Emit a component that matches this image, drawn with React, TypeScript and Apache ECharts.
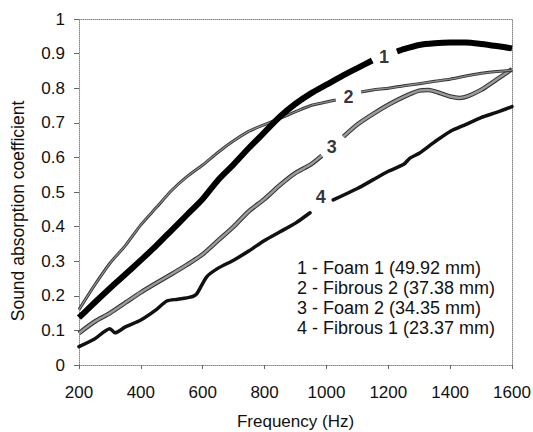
import React, { useEffect, useRef } from "react";
import * as echarts from "echarts";

// Curve 1 - Foam 1 (49.92 mm)
const foam1Freq = [200, 250, 300, 350, 400, 450, 500, 550, 600, 650, 700, 750, 800, 850, 900, 950, 1000, 1050, 1100, 1148, 1190, 1228, 1250, 1300, 1350, 1400, 1450, 1500, 1550, 1600];
const foam1Vals = [0.137, 0.18, 0.222, 0.262, 0.303, 0.345, 0.39, 0.435, 0.48, 0.535, 0.58, 0.628, 0.673, 0.718, 0.755, 0.785, 0.81, 0.835, 0.858, 0.88, null, 0.906, 0.913, 0.925, 0.93, 0.932, 0.932, 0.928, 0.922, 0.915];

// Curve 2 - Fibrous 2 (37.38 mm)
const fibrous2Freq = [200, 250, 300, 350, 400, 450, 500, 550, 600, 650, 700, 750, 800, 850, 900, 950, 1000, 1030, 1070, 1112, 1150, 1200, 1250, 1300, 1350, 1400, 1450, 1500, 1550, 1600];
const fibrous2Vals = [0.16, 0.23, 0.294, 0.345, 0.405, 0.455, 0.505, 0.545, 0.578, 0.615, 0.648, 0.676, 0.695, 0.713, 0.732, 0.75, 0.76, 0.766, null, 0.789, 0.795, 0.8, 0.807, 0.813, 0.82, 0.826, 0.835, 0.843, 0.848, 0.852];

// Curve 3 - Foam 2 (34.35 mm)
const foam2Freq = [200, 250, 300, 350, 400, 450, 500, 550, 600, 650, 700, 750, 800, 850, 900, 950, 985, 1020, 1055, 1100, 1150, 1200, 1250, 1300, 1330, 1370, 1400, 1430, 1460, 1500, 1550, 1600];
const foam2Vals = [0.092, 0.125, 0.15, 0.18, 0.21, 0.237, 0.263, 0.29, 0.32, 0.36, 0.4, 0.445, 0.48, 0.52, 0.555, 0.58, 0.605, null, 0.66, 0.695, 0.725, 0.752, 0.775, 0.793, 0.795, 0.785, 0.776, 0.772, 0.778, 0.795, 0.825, 0.855];

// Curve 4 - Fibrous 1 (23.37 mm)
const fibrous1Freq = [200, 250, 300, 316, 350, 400, 450, 484, 520, 560, 580, 613, 650, 700, 750, 800, 850, 900, 947, 985, 1022, 1100, 1150, 1200, 1250, 1270, 1300, 1350, 1400, 1450, 1500, 1550, 1600];
const fibrous1Vals = [0.053, 0.075, 0.105, 0.093, 0.11, 0.13, 0.16, 0.185, 0.19, 0.196, 0.205, 0.255, 0.28, 0.303, 0.33, 0.36, 0.385, 0.41, 0.44, null, 0.477, 0.51, 0.535, 0.56, 0.58, 0.598, 0.612, 0.645, 0.675, 0.695, 0.715, 0.73, 0.747];

// Curve number labels placed in the gaps
const curveLabels = ["1", "2", "3", "4"];
const curveLabelFreq = [1186, 1071, 1017, 982];
const curveLabelVals = [0.89, 0.775, 0.63, 0.486];

const legendLines = [
  "1 - Foam 1 (49.92 mm)",
  "2 - Fibrous 2 (37.38 mm)",
  "3 - Foam 2 (34.35 mm)",
  "4 - Fibrous 1 (23.37 mm)",
];

const xTicks = [200, 400, 600, 800, 1000, 1200, 1400, 1600];
const xName = "Frequency (Hz)";
const yName = "Sound absorption coefficient";

const FONT = "'Liberation Sans', Arial, sans-serif";

const pairs = (f: number[], v: (number | null)[]) =>
  f.map((x, i) => [x, v[i] === null ? "-" : v[i]]);

export default function App() {
  const ref = useRef<HTMLDivElement>(null);
  useEffect(() => {
    if (!ref.current) return;
    const chart = echarts.init(ref.current, undefined, { renderer: "svg" });
    const lineBase = {
      type: "line",
      showSymbol: false,
      symbol: "none",
      smooth: 0.25,
      connectNulls: false,
      silent: true,
      xAxisIndex: 0,
      yAxisIndex: 0,
    };
    chart.setOption({
      animation: false,
      backgroundColor: "#fff",
      grid: { left: 79, right: 21, top: 19, bottom: 67, containLabel: false, outerBoundsMode: "none" },
      xAxis: [
        {
          type: "value",
          position: "bottom",
          min: xTicks[0],
          max: xTicks[xTicks.length - 1],
          interval: 200,
          name: xName,
          nameLocation: "middle",
          nameGap: 48,
          nameTextStyle: { fontFamily: FONT, fontSize: 17, color: "#111" },
          axisLine: { show: true, lineStyle: { color: "#888", type: "dotted", width: 1 } },
          axisTick: { show: true, inside: false, length: 4, lineStyle: { color: "#666" } },
          axisLabel: {
            fontFamily: FONT,
            fontSize: 17,
            color: "#111",
            margin: 19,
            formatter: (v: number) => String(v),
          },
          splitLine: { show: false },
        },
        {
          type: "value",
          position: "top",
          min: 200,
          max: 1600,
          axisLine: { show: true, onZero: false, lineStyle: { color: "#888", type: "dotted", width: 1 } },
          axisTick: { show: false },
          axisLabel: { show: false },
          splitLine: { show: false },
        },
      ],
      yAxis: [
        {
          type: "value",
          position: "left",
          min: 0,
          max: 1,
          interval: 0.1,
          axisLine: { show: true, onZero: false, lineStyle: { color: "#888", type: "dotted", width: 1 } },
          axisTick: { show: true, inside: false, length: 5, lineStyle: { color: "#666" } },
          axisLabel: {
            fontFamily: FONT,
            fontSize: 17,
            color: "#111",
            margin: 14,
            formatter: (v: number) => String(Math.round(v * 10) / 10),
          },
          splitLine: { show: false },
        },
        {
          type: "value",
          position: "right",
          min: 0,
          max: 1,
          axisLine: { show: true, onZero: false, lineStyle: { color: "#888", type: "dotted", width: 1 } },
          axisTick: { show: false },
          axisLabel: { show: false },
          splitLine: { show: false },
        },
      ],
      series: [
        {
          ...lineBase,
          name: "Fibrous 1",
          data: pairs(fibrous1Freq, fibrous1Vals),
          lineStyle: { color: "#111", width: 3.5, cap: "round", join: "round" },
        },
        {
          ...lineBase,
          name: "Foam 2 edge",
          data: pairs(foam2Freq, foam2Vals),
          lineStyle: { color: "#333", width: 4.5, cap: "butt", join: "round" },
        },
        {
          ...lineBase,
          name: "Foam 2",
          data: pairs(foam2Freq, foam2Vals),
          lineStyle: { color: "#9a9a9a", width: 2.5, cap: "butt", join: "round" },
        },
        {
          ...lineBase,
          name: "Fibrous 2 edge",
          data: pairs(fibrous2Freq, fibrous2Vals),
          lineStyle: { color: "#333", width: 3, cap: "butt", join: "round" },
        },
        {
          ...lineBase,
          name: "Fibrous 2",
          data: pairs(fibrous2Freq, fibrous2Vals),
          lineStyle: { color: "#8c8c8c", width: 1.3, cap: "butt", join: "round" },
        },
        {
          ...lineBase,
          name: "Foam 1",
          data: pairs(foam1Freq, foam1Vals),
          lineStyle: { color: "#000", width: 6, cap: "butt", join: "round" },
        },
        {
          type: "scatter",
          silent: true,
          symbolSize: 0,
          data: curveLabels.map((n, i) => ({ name: n, value: [curveLabelFreq[i], curveLabelVals[i]] })),
          label: {
            show: true,
            position: "inside",
            formatter: (p: any) => p.name,
            fontFamily: FONT,
            fontSize: 18,
            fontWeight: "bold",
            color: "#000",
          },
        },
      ],
      graphic: [
        {
          type: "text",
          x: 18,
          y: 211,
          rotation: Math.PI / 2,
          style: {
            text: yName,
            fontFamily: FONT,
            fontSize: 17.5,
            fill: "#111",
            textAlign: "center",
            textVerticalAlign: "middle",
          },
        },
        ...legendLines.map((t, i) => ({
          type: "text",
          x: 297,
          y: 268 + i * 20,
          style: {
            text: t,
            fontFamily: FONT,
            fontSize: 18,
            fill: "#111",
            textAlign: "left",
            textVerticalAlign: "middle",
          },
        })),
      ],
    });
    return () => chart.dispose();
  }, []);
  return (
    <div
      ref={ref}
      style={{ position: "absolute", left: 0, top: 0, width: 533, height: 432, background: "#fff" }}
    />
  );
}
